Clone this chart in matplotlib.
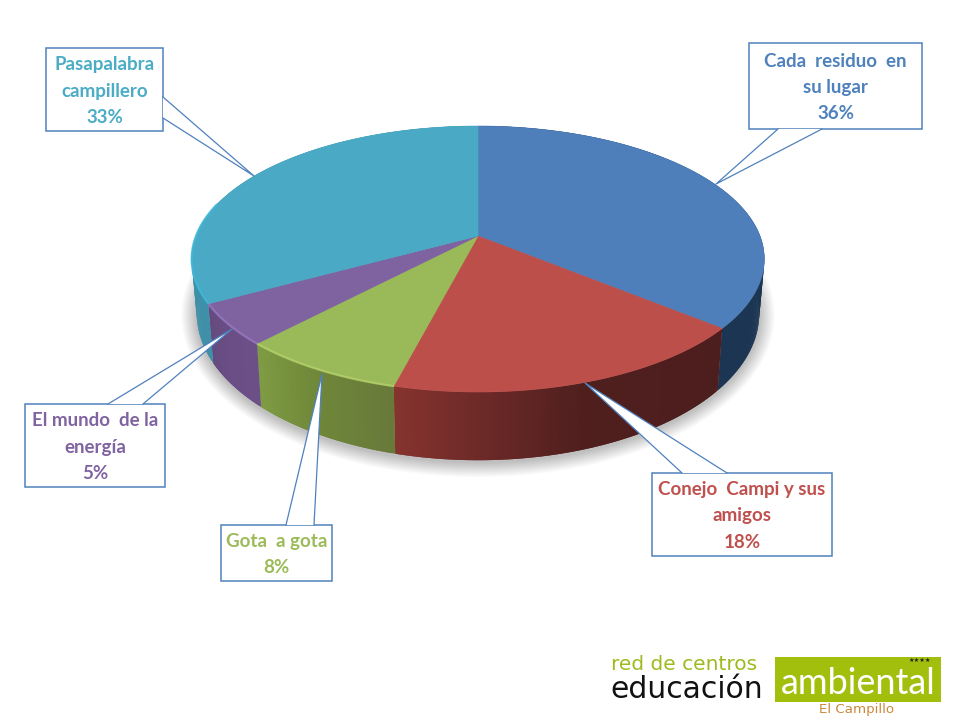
"""
plot.py - 3D looking pie of the activity shares, drawn in slide pixels.
The slices are laid out with a small perspective map so the rim follows the values.
"""
import numpy as np
import matplotlib
matplotlib.use("Agg")
import matplotlib.pyplot as plt
from matplotlib.colors import to_rgb
from matplotlib.patches import Polygon, Rectangle

categories = ["Cada  residuo  en\nsu lugar", "Conejo  Campi y sus\namigos", "Gota  a gota",
              "El mundo  de la\nenergía", "Pasapalabra\ncampillero"]
values = [36, 18, 8, 5, 33]

TOP = ["#4f7fba", "#bd4f4b", "#9aba5a", "#7f63a1", "#4aa9c4"]
TXT = ["#4f81bd", "#c0504d", "#9bbb59", "#8064a2", "#4bacc6"]
# side colours: start of slice, middle, end (clockwise = right to left at the front)
SIDE = [("#1c3552", "#1c3552", "#1c3552"),
        ("#4d1e1e", "#4f1f1e", "#86332f"),
        ("#68793a", "#6f8739", "#7f9c44"),
        ("#6b4f87", "#6a4e85", "#654a7f"),
        ("#3e8fa8", "#3f93ab", "#3f93ab")]
RIM = [None, None, "#b4d16b", "#9678bd", "#3fb9da"]
LINE = "#4f81bd"

CX, CY = 478, 236       # apex of the pie
RX, RA, PERSP = 282, 88.2, 0.173


def top_xy(theta):
    # theta = degrees clockwise from 12 o'clock, perspective map of the unit circle
    t = np.radians(theta)
    X, Y = np.sin(t), np.cos(t)
    den = 1 + PERSP * Y
    return CX + RX * X / den, (CY - RA * Y) / den


def bottom_xy(x, y):
    return CX + 0.982 * (x - CX), 1.10 * y + 29


def rim(a, b, n=None):
    n = n or max(int(abs(b - a)) * 2, 2)
    th = np.linspace(a, b, n)
    return th, *top_xy(th)


fig = plt.figure(figsize=(9.6, 7.2), dpi=100)
ax = fig.add_axes([0, 0, 1, 1])
ax.set_xlim(0, 960)
ax.set_ylim(720, 0)
ax.axis("off")

# soft shadow under the disc
_, sx, sy = rim(0, 360, 240)
bx, by = bottom_xy(sx, sy)
for d in range(16, 0, -1):
    ax.add_patch(Polygon(np.c_[CX + (bx - CX) * (1 + d / 290), 322 + (by - 320) * (1 + d / 150)],
                         fc="black", ec="none", alpha=0.016, zorder=1))

edges = np.concatenate([[0], np.cumsum(values)]) * 360.0 / sum(values)

# side wall, strips overlap by one step so no seams show between them
for i in range(len(values)):
    a, b = edges[i], edges[i + 1]
    th, x, y = rim(a, b)
    xb, yb = bottom_xy(x, y)
    c = np.array([to_rgb(k) for k in SIDE[i]])
    for j in range(len(th) - 1):
        f = (j + 0.5) / (len(th) - 1)
        col = [np.interp(f, [0, 0.5, 1], c[:, k]) for k in range(3)]
        e = min(j + 2, len(th) - 1)
        ax.add_patch(Polygon([(x[j], y[j]), (x[e], y[e]), (xb[e], yb[e]), (xb[j], yb[j])],
                             fc=col, ec="none", zorder=2 + i * 0.01))

# top face
for i in range(len(values)):
    a, b = edges[i], edges[i + 1]
    _, x, y = rim(a, b)
    ax.add_patch(Polygon(np.r_[[(CX, CY)], np.c_[x, y]], fc=TOP[i], ec=TOP[i], lw=0.4, zorder=3))
    if RIM[i]:
        # the teal highlight stops once the wall turns away
        _, xr, yr = rim(a, min(b, 285))
        ax.plot(xr, yr, color=RIM[i], lw=1.6, alpha=0.8, solid_capstyle="butt", zorder=4)

# callouts: box, pointer and label
boxes = [(749, 43, 922, 129), (652, 473, 832, 556), (221, 525, 332, 581), (25, 404, 165, 487), (46, 48, 163, 131)]
tips = [(716, 184), (585, 383), (322, 374), (232, 329), (254, 176)]
bases = [((778, 129), (822, 129)), ((682, 473), (727, 473)), ((286, 525), (314, 525)),
         ((108, 404), (143, 404)), ((163, 97), (163, 118))]
for i, (x0, y0, x1, y1) in enumerate(boxes):
    ax.add_patch(Rectangle((x0, y0), x1 - x0, y1 - y0, fc="white", ec=LINE, lw=1.1, zorder=5))
    p, q = bases[i]
    ax.add_patch(Polygon([p, tips[i], q], fc="white", ec="none", zorder=6))
    ax.plot([p[0], tips[i][0], q[0]], [p[1], tips[i][1], q[1]], color=LINE, lw=0.9, zorder=7)
    ax.text((x0 + x1) / 2, (y0 + y1) / 2 + 1.5, f"{categories[i]}\n{values[i]}%", color=TXT[i], ha="center",
            va="center", family="Lato", weight="bold", fontsize=13.5, linespacing=1.66, zorder=8)

# logo block, bottom right
ax.add_patch(Rectangle((775, 657), 166, 45, fc="#a2bf0e", ec="none", zorder=5))
ax.text(611, 664, "red de centros", color="#9dbb1e", family="DejaVu Sans", fontsize=14.5, ha="left", va="center")
ax.text(610, 690, "educación", color="#111111", family="DejaVu Sans", fontsize=21.5, ha="left", va="center")
ax.text(858, 684, "ambiental", color="white", family="Lato", fontsize=26, ha="center", va="center", zorder=6)
ax.text(857, 709, "El Campillo", color="#c98a3c", family="DejaVu Sans", fontsize=9.6, ha="center", va="center")
ax.text(920, 660, "★★★★", color="#222222", family="DejaVu Sans", fontsize=4.5, ha="center", va="center", zorder=7)

fig.savefig("out.png", dpi=100)
